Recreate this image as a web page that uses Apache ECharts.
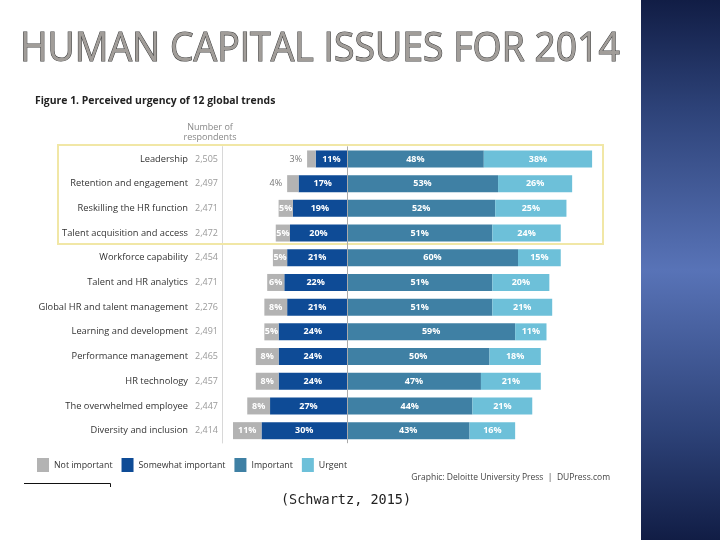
<!DOCTYPE html>
<html><head><meta charset="utf-8">
<script src="https://cdn.jsdelivr.net/npm/echarts@6/dist/echarts.min.js"></script>
<style>html,body{margin:0;padding:0;background:#fff}#c{width:720px;height:540px}</style>
</head><body><div id="c"></div>
<script>
var categories = ['Leadership','Retention and engagement','Reskilling the HR function','Talent acquisition and access','Workforce capability','Talent and HR analytics','Global HR and talent management','Learning and development','Performance management','HR technology','The overwhelmed employee','Diversity and inclusion'];
var respondents = ['2,505','2,497','2,471','2,472','2,454','2,471','2,276','2,491','2,465','2,457','2,447','2,414'];
var notImportant = [3,4,5,5,5,6,8,5,8,8,8,11];
var somewhatImportant = [11,17,19,20,21,22,21,24,24,24,27,30];
var important = [48,53,52,51,60,51,51,59,50,47,44,43];
var urgent = [38,26,25,24,15,20,21,11,18,21,21,16];
var seriesNames = ['Not important','Somewhat important','Important','Urgent'];
var colors = {'Not important':'#b3b3b3','Somewhat important':'#0e4b96','Important':'#3f80a4','Urgent':'#6dc0d9'};

var titleText = 'HUMAN CAPITAL ISSUES FOR 2014';
var titleFont = '40px "Open Sans"';
var cv = document.createElement('canvas').getContext('2d');
cv.font = titleFont;
var tw = cv.measureText(titleText).width;
var sx = 600 / tw;

var chart = echarts.init(document.getElementById('c'), null, {renderer:'canvas'});
var lblBase = {show:true, color:'#fff', fontSize:9, fontWeight:'bold', fontFamily:'Open Sans', formatter:function(p){return Math.abs(p.value)+'%';}};

var notData = notImportant.map(function(v){
  var d = {value:-v};
  if (v <= 4) d.label = {position:'left', color:'#777', fontWeight:'normal'};
  return d;
});

chart.setOption({
  animation:false,
  backgroundColor:'#fff',
  color:[colors['Somewhat important'],colors['Not important'],colors['Important'],colors['Urgent']],
  legend:{
    data:seriesNames, left:32, top:453, itemWidth:12, itemHeight:14, itemGap:9, icon:'rect',
    textStyle:{fontSize:8.8, color:'#333', fontFamily:'Open Sans'}
  },
  grid:{left:233, right:116.5, top:146.6, bottom:97},
  xAxis:{type:'value', min:-40, max:90, show:false},
  yAxis:[
    {type:'category', data:categories, inverse:true, position:'left', offset:38,
     axisLine:{show:true, lineStyle:{color:'#d8d8d8'}}, axisTick:{show:false},
     axisLabel:{margin:7, fontSize:9.3, color:'#333', fontFamily:'Open Sans'}},
    {type:'category', data:respondents, inverse:true, position:'left', offset:11,
     axisLine:{show:true, lineStyle:{color:'#d8d8d8'}}, axisTick:{show:false},
     axisLabel:{margin:4, fontSize:9, color:'#999', fontFamily:'Open Sans'}}
  ],
  series:[
    {name:'Somewhat important', type:'bar', stack:'s', barWidth:17, data:somewhatImportant.map(function(v){return -v;}),
     itemStyle:{color:colors['Somewhat important']}, label:Object.assign({position:'inside'}, lblBase),
     markLine:{silent:true, symbol:'none', label:{show:false}, lineStyle:{color:'#aaa', type:'solid', width:1}, data:[{xAxis:0}]}},
    {name:'Not important', type:'bar', stack:'s', barWidth:17, data:notData,
     itemStyle:{color:colors['Not important']}, label:Object.assign({position:'inside'}, lblBase)},
    {name:'Important', type:'bar', stack:'s', barWidth:17, data:important,
     itemStyle:{color:colors['Important']}, label:Object.assign({position:'inside'}, lblBase)},
    {name:'Urgent', type:'bar', stack:'s', barWidth:17, data:urgent,
     itemStyle:{color:colors['Urgent']}, label:Object.assign({position:'inside'}, lblBase)}
  ],
  graphic:[
    {type:'rect', left:641, top:0, z:0, shape:{width:79, height:540},
     style:{fill:new echarts.graphic.LinearGradient(0,0,0,1,[{offset:0,color:'#111d45'},{offset:0.2,color:'#2d4278'},{offset:0.5,color:'#5873b7'},{offset:0.8,color:'#2d4278'},{offset:1,color:'#111d45'}])}},
    {type:'text', x:20, y:30, scaleX:sx, z:10,
     style:{text:titleText, font:titleFont, fill:'#a19d99', stroke:'#3e3e3e', lineWidth:1.1}},
    {type:'text', x:35, y:96, style:{text:'Figure 1. Perceived urgency of 12 global trends', font:'bold 10.4px "Open Sans"', fill:'#222'}},
    {type:'text', x:210, y:122, style:{text:'Number of\nrespondents', font:'9px "Open Sans"', fill:'#888', align:'center', lineHeight:10}},
    {type:'rect', z:5, shape:{x:58, y:145, width:545, height:99}, style:{fill:null, stroke:'#f1e7a6', lineWidth:2}},
    {type:'text', x:610, y:473, style:{text:'Graphic: Deloitte University Press  |  DUPress.com', font:'8.5px "Open Sans"', fill:'#444', align:'right'}},
    {type:'polyline', shape:{points:[[24,483.5],[110.5,483.5],[110.5,487]]}, style:{stroke:'#111', lineWidth:1, fill:null}},
    {type:'text', x:346, y:493, style:{text:'(Schwartz, 2015)', font:'13.5px "DejaVu Sans Mono"', fill:'#222', align:'center'}}
  ]
});
</script></body></html>
